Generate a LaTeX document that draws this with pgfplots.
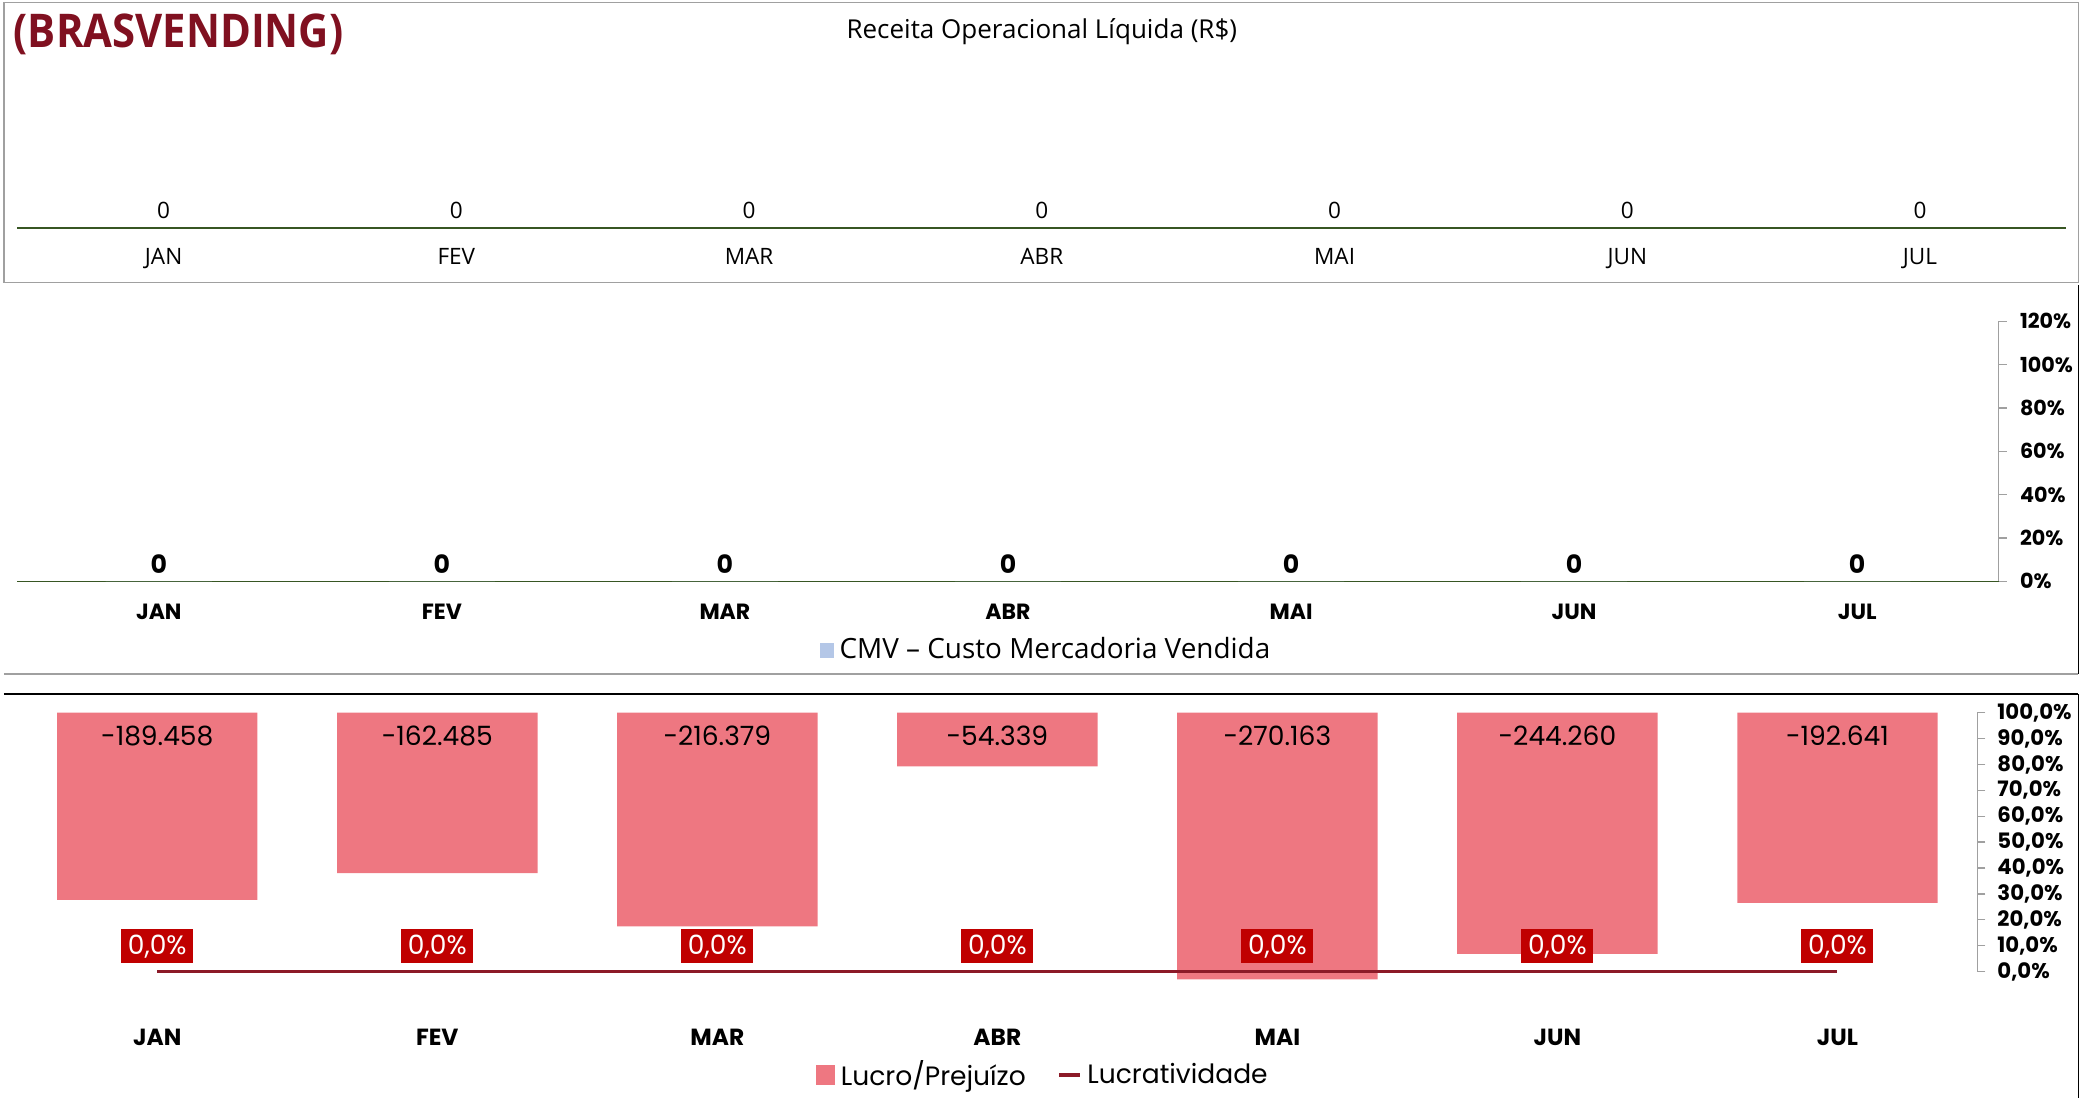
\documentclass[border=0pt]{standalone}
\usepackage{pgfplots}
\usepackage{pgfplotstable}
\pgfplotsset{compat=1.18}
\usepackage{fontspec}
\setmainfont{Open Sans}
\newfontfamily\pop{Poppins}

\definecolor{brand}{RGB}{128,16,32}
\definecolor{axgreen}{RGB}{55,86,35}
\definecolor{cmvblue}{RGB}{180,199,231}
\definecolor{barcol}{RGB}{238,119,129}
\definecolor{boxred}{RGB}{192,0,0}
\definecolor{linecol}{RGB}{140,26,40}
\definecolor{framegray}{RGB}{160,160,160}

\pgfkeys{/pgf/number format/assume math mode=true}

% Lucro/Prejuizo por mes
\pgfplotstableread{
x v
0 -189458
1 -162485
2 -216379
3 -54339
4 -270163
5 -244260
6 -192641
}\lucro

\begin{document}
\begin{tikzpicture}
\path[use as bounding box] (0,0) rectangle (784pt,413.5pt);

% ---- frames
\draw[framegray, line width=0.6pt] (1.5pt,307pt) rectangle (783pt,412.5pt);
\draw[black, line width=0.5pt] (783pt,306pt) -- (783pt,159.5pt);
\draw[framegray, line width=0.6pt] (1.5pt,159.5pt) -- (783pt,159.5pt);
\draw[black, line width=0.9pt] (1.5pt,152pt) -- (783pt,152pt);
\draw[black, line width=0.6pt] (783pt,152pt) -- (783pt,0pt);

\node[anchor=west, inner sep=0, text=brand] at (5pt,400.5pt)
  {\scalebox{0.9}[1]{\bfseries\fontsize{17.5}{20}\selectfont (BRASVENDING)}};
\node[font=\fontsize{9.8}{11}\selectfont] at (392.5pt,401.5pt) {Receita Operacional Líquida (R\$)};

% ---- panel 1: receita
\begin{axis}[
  at={(6.5pt,327.5pt)}, anchor=south west,
  scale only axis, width=772pt, height=50pt,
  xmin=-0.5, xmax=6.5, ymin=0, ymax=1,
  axis x line*=bottom, axis y line=none,
  x axis line style={draw=axgreen, line width=0.6pt, -},
  xtick={0,...,6}, xticklabels={JAN,FEV,MAR,ABR,MAI,JUN,JUL},
  xtick style={draw=none},
  xticklabel style={font=\fontsize{8.5}{10}\selectfont, yshift=-4pt},
  ytick=\empty,
]
\addplot[ybar, bar width=40pt, draw=none, fill=none, nodes near coords,
  every node near coord/.append style={font=\fontsize{8.5}{10}\selectfont, text=black, yshift=0pt}]
  coordinates {(0,0) (1,0) (2,0) (3,0) (4,0) (5,0) (6,0)};
\end{axis}

% ---- panel 2: CMV
\begin{axis}[
  at={(6.5pt,194.5pt)}, anchor=south west,
  scale only axis, width=746.5pt, height=98pt,
  xmin=-0.5, xmax=6.5, ymin=0, ymax=1.2,
  axis x line*=bottom, axis y line*=right,
  x axis line style={draw=axgreen, line width=0.6pt, -},
  y axis line style={draw=framegray, line width=0.5pt, -},
  xtick={0,...,6}, xticklabels={JAN,FEV,MAR,ABR,MAI,JUN,JUL},
  xtick style={draw=none},
  xticklabel style={font=\pop\bfseries\fontsize{8.3}{10}\selectfont, yshift=-2pt},
  ytick={0,0.2,0.4,0.6,0.8,1.0,1.2},
  yticklabels={0\%,20\%,40\%,60\%,80\%,100\%,120\%},
  ytick style={draw=framegray, line width=0.5pt},
  tick align=outside, major tick length=3pt,
  yticklabel style={font=\pop\bfseries\fontsize{7.8}{9}\selectfont, xshift=1.5pt},
  legend style={at={(0.52,-0.265)}, anchor=center, draw=none, fill=none,
    font=\fontsize{10.5}{12}\selectfont},
]
\addplot[ybar, bar width=40pt, draw=none, fill=cmvblue, nodes near coords,
  every node near coord/.append style={font=\pop\bfseries\fontsize{9.5}{11}\selectfont, text=black, yshift=-0.5pt},
  legend image code/.code={\fill[cmvblue] (0pt,-2.75pt) rectangle (5.5pt,2.75pt);}]
  coordinates {(0,0) (1,0) (2,0) (3,0) (4,0) (5,0) (6,0)};
\addlegendentry{CMV – Custo Mercadoria Vendida}
\end{axis}

% ---- panel 3: lucro (bars, primary axis)
\begin{axis}[
  at={(6.5pt,47.5pt)}, anchor=south west,
  scale only axis, width=738.5pt, height=97.5pt,
  xmin=-0.5, xmax=6.5, ymin=-262080, ymax=0,
  hide axis, clip=false,
]
\addplot[ybar, bar width=75.5pt, fill=barcol, draw=none] table[x=x, y=v] {\lucro};
\addplot[draw=none, mark=none, nodes near coords, nodes near coords align={below},
  point meta=explicit,
  /pgf/number format/fixed, /pgf/number format/precision=0,
  /pgf/number format/1000 sep={.},
  every node near coord/.append style={font=\pop\fontsize{10}{12}\selectfont, text=black, yshift=-1.5pt}]
  table[x=x, y expr=0, meta=v] {\lucro};
\end{axis}

% ---- panel 3: lucratividade (secondary axis)
\begin{axis}[
  at={(6.5pt,47.5pt)}, anchor=south west,
  scale only axis, width=738.5pt, height=97.5pt,
  xmin=-0.5, xmax=6.5, ymin=0, ymax=1,
  axis x line*=bottom, axis y line*=right,
  x axis line style={draw=none},
  y axis line style={draw=framegray, line width=0.5pt, -},
  xtick={0,...,6}, xticklabels={JAN,FEV,MAR,ABR,MAI,JUN,JUL},
  xtick style={draw=none},
  xticklabel style={font=\pop\bfseries\fontsize{8.8}{10}\selectfont, yshift=-15pt},
  ytick={0,0.1,0.2,0.3,0.4,0.5,0.6,0.7,0.8,0.9,1.0},
  yticklabels={{0,0\%},{10,0\%},{20,0\%},{30,0\%},{40,0\%},{50,0\%},{60,0\%},{70,0\%},{80,0\%},{90,0\%},{100,0\%}},
  ytick style={draw=framegray, line width=0.5pt},
  tick align=outside, major tick length=3pt,
  yticklabel style={font=\pop\bfseries\fontsize{8}{9}\selectfont, xshift=1pt},
  clip=false,
  legend style={at={(0.524,-0.4)}, anchor=center, draw=none, fill=none,
    legend columns=2, font=\pop\fontsize{10}{11}\selectfont,
    /tikz/every even column/.append style={column sep=10pt}},
]
\addlegendimage{legend image code/.code={\fill[barcol] (0pt,-3.5pt) rectangle (7pt,3.5pt);}}
\addlegendentry{Lucro/Prejuízo}
\addplot[linecol, line width=1.3pt, mark=none, point meta={y*100},
  nodes near coords={\pgfmathprintnumber[fixed,fixed zerofill,precision=1,use comma]{\pgfplotspointmeta}\%},
  every node near coord/.append style={fill=boxred, text=white, font=\pop\fontsize{10}{11}\selectfont, inner xsep=2.5pt, inner ysep=2pt, yshift=2.5pt},
  legend image code/.code={\draw[linecol, line width=1.2pt] (0pt,0pt) -- (8pt,0pt);}]
  coordinates {(0,0) (1,0) (2,0) (3,0) (4,0) (5,0) (6,0)};
\addlegendentry{Lucratividade}
\end{axis}
\end{tikzpicture}
\end{document}
